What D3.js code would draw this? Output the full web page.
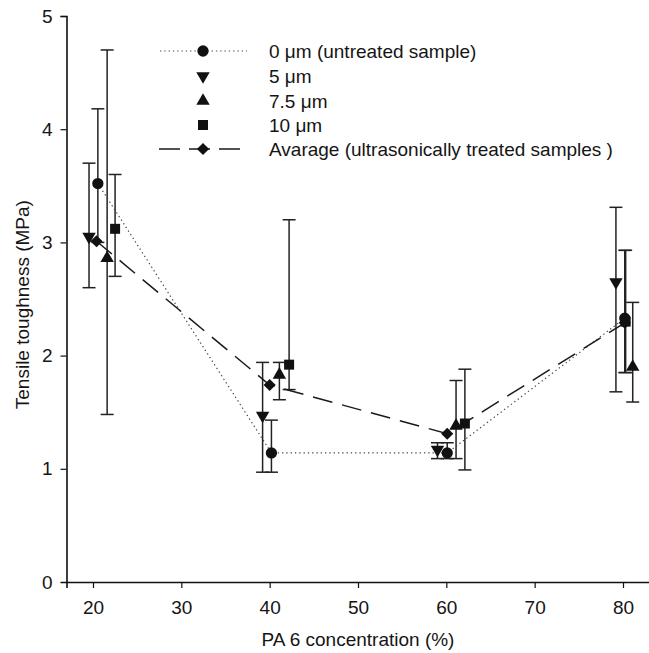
<!DOCTYPE html>
<html>
<head>
<meta charset="utf-8">
<script src="https://cdn.jsdelivr.net/npm/d3@7"></script>
<style>
body { margin: 0; background: #fff; }
text { font-family: "Liberation Sans", Arial, sans-serif; fill: #151515; }
</style>
</head>
<body>
<script>
const width = 649;
const height = 653;

// x positions are the plotted (slightly shifted) concentrations
const untreatedX = [20.55, 40.2, 60.1, 80.2];
const untreatedY = [3.52, 1.14, 1.14, 2.33];
const untreatedLo = [3.0, 0.97, 1.09, 1.85];
const untreatedHi = [4.18, 1.43, 1.23, 2.93];

const fiveX = [19.55, 39.2, 59.0, 79.2];
const fiveY = [3.05, 1.47, 1.17, 2.65];
const fiveLo = [2.60, 0.97, 1.09, 1.68];
const fiveHi = [3.70, 1.94, 1.23, 3.31];

const sevenX = [21.6, 41.1, 61.1, 81.1];
const sevenY = [2.86, 1.83, 1.38, 1.90];
const sevenLo = [1.48, 1.61, 1.09, 1.59];
const sevenHi = [4.70, 1.94, 1.78, 2.47];

const tenX = [22.5, 42.2, 62.1, 80.3];
const tenY = [3.12, 1.92, 1.40, 2.30];
const tenLo = [2.70, 1.70, 0.99, 1.85];
const tenHi = [3.60, 3.20, 1.88, 2.93];

const avgX = [20.4, 40.0, 60.1, 80.2];
const avgY = [3.01, 1.74, 1.31, 2.29];

const xTicks = [20, 30, 40, 50, 60, 70, 80];
const yTicks = [0, 1, 2, 3, 4, 5];
const legendLabels = ["0 \u03bcm (untreated sample)", "5 \u03bcm", "7.5 \u03bcm", "10 \u03bcm", "Avarage (ultrasonically treated samples )"];

const svg = d3.select("body")
	.append("svg")
	.attr("width", width)
	.attr("height", height);

const x = d3.scaleLinear().domain([17, 83]).range([66.5, 649.5]);
const y = d3.scaleLinear().domain([0, 5]).range([582, 16]);

// axes
const xAxis = d3.axisBottom(x).tickValues(xTicks).tickSize(6).tickPadding(13);
const yAxis = d3.axisLeft(y).tickValues(yTicks).tickFormat(d3.format("d")).tickSize(6).tickPadding(8);

const gx = svg.append("g").attr("transform", "translate(0," + y(0) + ")").call(xAxis);
const gy = svg.append("g").attr("transform", "translate(" + x(17) + ",0)").call(yAxis);
[gx, gy].forEach(g => {
	g.select(".domain").attr("stroke", "#111").attr("stroke-width", 1.6);
	g.selectAll(".tick line").attr("stroke", "#111").attr("stroke-width", 1.2);
	g.selectAll(".tick text").style("font-size", "19px").attr("fill", "#151515");
});
gy.select(".tick:first-of-type line").remove();

svg.append("text")
	.attr("x", x(50))
	.attr("y", 646)
	.attr("text-anchor", "middle")
	.style("font-size", "19px")
	.text("PA 6 concentration (%)");

svg.append("text")
	.attr("transform", "translate(29," + y(2.45) + ") rotate(-90)")
	.attr("text-anchor", "middle")
	.style("font-size", "19px")
	.text("Tensile toughness (MPa)");

// error bars
function errorBars(xs, lo, hi) {
	const cap = 6.5;
	xs.forEach(function(xv, i) {
		const g = svg.append("g").attr("stroke", "#222").attr("stroke-width", 1.5);
		g.append("line").attr("x1", x(xv)).attr("x2", x(xv)).attr("y1", y(lo[i])).attr("y2", y(hi[i]));
		g.append("line").attr("x1", x(xv) - cap).attr("x2", x(xv) + cap).attr("y1", y(lo[i])).attr("y2", y(lo[i]));
		g.append("line").attr("x1", x(xv) - cap).attr("x2", x(xv) + cap).attr("y1", y(hi[i])).attr("y2", y(hi[i]));
	});
}
errorBars(untreatedX, untreatedLo, untreatedHi);
errorBars(fiveX, fiveLo, fiveHi);
errorBars(sevenX, sevenLo, sevenHi);
errorBars(tenX, tenLo, tenHi);

// connecting lines
const line = d3.line().x(d => x(d[0])).y(d => y(d[1]));

svg.append("path")
	.datum(d3.zip(untreatedX, untreatedY))
	.attr("d", line)
	.attr("fill", "none")
	.attr("stroke", "#444")
	.attr("stroke-width", 1.2)
	.attr("stroke-dasharray", "1.3,3");

svg.append("path")
	.datum(d3.zip(avgX, avgY))
	.attr("d", line)
	.attr("fill", "none")
	.attr("stroke", "#1a1a1a")
	.attr("stroke-width", 1.5)
	.attr("stroke-dasharray", "20,10");

// markers
const shapes = {
	circle: d3.symbol().type(d3.symbolCircle).size(100),
	down: d3.symbol().type(d3.symbolTriangle).size(78),
	up: d3.symbol().type(d3.symbolTriangle).size(78),
	square: d3.symbol().type(d3.symbolSquare).size(100),
	diamond: d3.symbol().type(d3.symbolSquare).size(74)
};
const rotation = { circle: 0, down: 180, up: 0, square: 0, diamond: 45 };

function markers(xs, ys, kind) {
	svg.append("g").selectAll("path")
		.data(d3.zip(xs, ys))
		.enter()
		.append("path")
		.attr("d", shapes[kind])
		.attr("fill", "#111")
		.attr("transform", d => "translate(" + x(d[0]) + "," + y(d[1]) + ") rotate(" + rotation[kind] + ")");
}
markers(tenX, tenY, "square");
markers(fiveX, fiveY, "down");
markers(sevenX, sevenY, "up");
markers(avgX, avgY, "diamond");
markers(untreatedX, untreatedY, "circle");

// legend
const legendKinds = ["circle", "down", "up", "square", "diamond"];
const legendRows = [51, 76, 101, 125, 149];
const legend = svg.append("g");

legend.append("line")
	.attr("x1", 160).attr("x2", 247).attr("y1", legendRows[0]).attr("y2", legendRows[0])
	.attr("stroke", "#444").attr("stroke-width", 1.2).attr("stroke-dasharray", "1.3,3");
legend.append("line")
	.attr("x1", 159).attr("x2", 240).attr("y1", legendRows[4]).attr("y2", legendRows[4])
	.attr("stroke", "#1a1a1a").attr("stroke-width", 1.5).attr("stroke-dasharray", "21,9");

legendKinds.forEach(function(kind, i) {
	legend.append("path")
		.attr("d", shapes[kind])
		.attr("fill", "#111")
		.attr("transform", "translate(203," + legendRows[i] + ") rotate(" + rotation[kind] + ")");
	legend.append("text")
		.attr("x", 269)
		.attr("y", legendRows[i])
		.attr("dy", "0.36em")
		.style("font-size", "19px")
		.text(legendLabels[i]);
});
</script>
</body>
</html>
